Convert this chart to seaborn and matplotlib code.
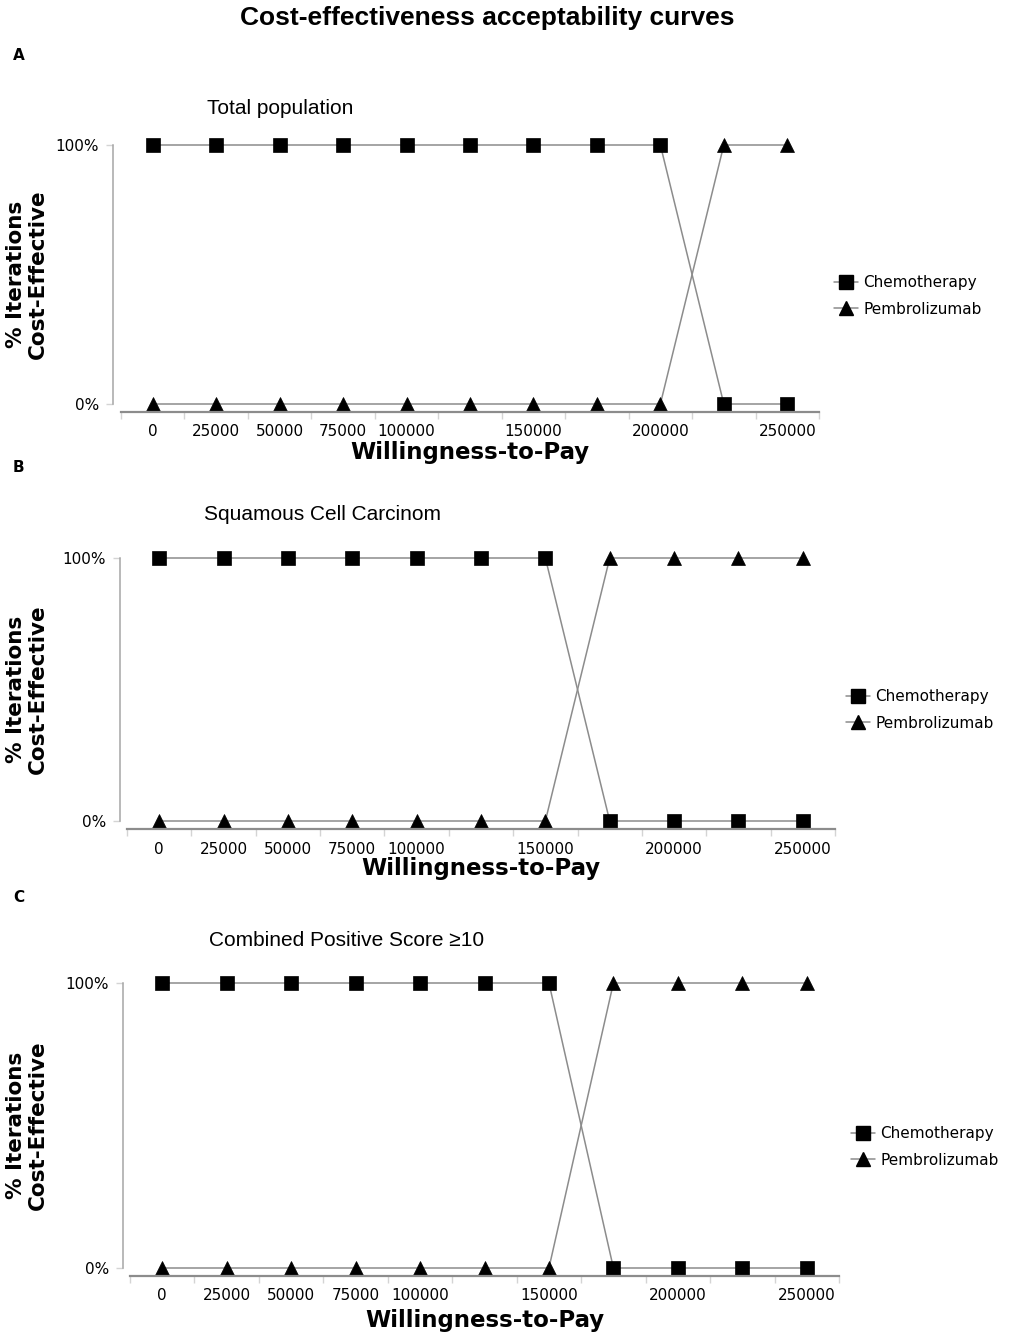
import matplotlib
matplotlib.use("Agg")
import seaborn as sns
from matplotlib import pyplot as plt
from matplotlib import font_manager
from matplotlib.lines import Line2D
from matplotlib.ticker import FixedLocator

# willingness-to-pay thresholds and the labels shown under the axis
wtp = [0, 25000, 50000, 75000, 100000, 125000, 150000, 175000, 200000, 225000, 250000]
wtp_labels = ["0", "25000", "50000", "75000", "100000", "", "150000", "", "200000", "", "250000"]

# share of iterations cost-effective (1 = 100%)
chemo_total = [1, 1, 1, 1, 1, 1, 1, 1, 1, 0, 0]
pembro_total = [0, 0, 0, 0, 0, 0, 0, 0, 0, 1, 1]
chemo_scc = [1, 1, 1, 1, 1, 1, 1, 0, 0, 0, 0]
pembro_scc = [0, 0, 0, 0, 0, 0, 0, 1, 1, 1, 1]
chemo_cps = [1, 1, 1, 1, 1, 1, 1, 0, 0, 0, 0]
pembro_cps = [0, 0, 0, 0, 0, 0, 0, 1, 1, 1, 1]

series_names = ["Chemotherapy", "Pembrolizumab"]
letters = ["A", "B", "C"]
subtitles = ["Total population", "Squamous Cell Carcinom", "Combined Positive Score \u226510"]

W, H = 1009, 1339
LINE = "#8c8c8c"
SPINE_Y = "#a6a6a6"
TICK = "#d4d4d4"

# the original uses a condensed font for titles; use it when present
installed = {f.name for f in font_manager.fontManager.ttflist}
if "Liberation Sans Narrow" in installed:
    NARROW = ["Liberation Sans Narrow", "DejaVu Sans"]
    title_size, sub_size = 20, 18
else:
    NARROW = ["Liberation Sans", "DejaVu Sans"]
    title_size, sub_size = 19, 15

# pixel layout of each panel
layout = [
    dict(x0=121, x1=819, y100=145, y0=404, yax=412, xax=113, sub=(280, 108),
         let=55, leg=(834, 296), xl=452),
    dict(x0=127, x1=835, y100=558, y0=821, yax=829, xax=120, sub=(322, 515),
         let=467, leg=(846, 710), xl=869),
    dict(x0=130, x1=839, y100=983, y0=1268, yax=1276, xax=123, sub=(347, 940),
         let=898, leg=(851, 1147), xl=1320),
]
data = [(chemo_total, pembro_total), (chemo_scc, pembro_scc), (chemo_cps, pembro_cps)]

sns.set_theme(style="white")
plt.rcParams["font.family"] = ["DejaVu Sans"]
plt.rcParams["text.color"] = "black"
plt.rcParams["axes.labelcolor"] = "black"
plt.rcParams["xtick.color"] = "black"
plt.rcParams["ytick.color"] = "black"

fig = plt.figure(figsize=(W / 100, H / 100), dpi=100)

fig.text(487 / W, 1 - 18 / H, "Cost-effectiveness acceptability curves",
         ha="center", va="center", fontsize=title_size, fontweight="bold", family=NARROW)

for i, (lay, (chemo, pembro)) in enumerate(zip(layout, data)):
    unit = lay["y0"] - lay["y100"]
    pad_bot = (lay["yax"] - lay["y0"]) / unit
    pad_top = 0.04
    top_px = lay["y100"] - pad_top * unit
    ax = fig.add_axes([lay["x0"] / W, 1 - lay["yax"] / H,
                       (lay["x1"] - lay["x0"]) / W, (lay["yax"] - top_px) / H])

    for vals, mk in zip((chemo, pembro), ("s", "^")):
        sns.lineplot(x=wtp, y=vals, ax=ax, color=LINE, linewidth=1.1, marker=mk,
                     markersize=9.5, markerfacecolor="black", markeredgecolor="black",
                     markeredgewidth=0.5)

    step = wtp[1] - wtp[0]
    ax.set_xlim(wtp[0] - step / 2, wtp[-1] + step / 2)
    ax.set_ylim(-pad_bot, 1 + pad_top)

    ax.xaxis.set_major_locator(FixedLocator(wtp))
    ax.set_xticklabels(wtp_labels)
    ax.xaxis.set_minor_locator(FixedLocator([w - step / 2 for w in wtp] + [wtp[-1] + step / 2]))
    ax.tick_params(axis="x", which="major", length=0, pad=9, labelsize=11, labelcolor="black")
    ax.tick_params(axis="x", which="minor", bottom=True, length=5, width=1, color=TICK)

    ax.set_yticks([0, 1])
    ax.set_yticklabels(["0%", "100%"])
    ax.tick_params(axis="y", left=True, length=5, width=1, color=TICK, pad=5,
                   labelsize=11, labelcolor="black")

    for side in ("top", "right"):
        ax.spines[side].set_visible(False)
    ax.spines["bottom"].set_color(LINE)
    ax.spines["bottom"].set_linewidth(1.6)
    ax.spines["left"].set_color(SPINE_Y)
    ax.spines["left"].set_linewidth(1.1)
    ax.spines["left"].set_bounds(0, 1)
    ax.spines["left"].set_position(("outward", (lay["x0"] - lay["xax"]) * 0.72))
    ax.grid(False)
    ax.set_xlabel("")
    ax.set_ylabel("")

    xc = (lay["x0"] + lay["x1"]) / 2
    fig.text(xc / W, 1 - lay["xl"] / H, "Willingness-to-Pay", ha="center", va="center",
             fontsize=16.5, fontweight="bold")
    yc = (lay["y0"] + lay["y100"]) / 2
    fig.text(27 / W, 1 - yc / H, "% Iterations\nCost-Effective", ha="center", va="center",
             rotation=90, fontsize=15.5, fontweight="bold", linespacing=1.1)
    fig.text(lay["sub"][0] / W, 1 - lay["sub"][1] / H, subtitles[i], ha="center",
             va="center", fontsize=sub_size, family=NARROW)
    fig.text(13 / W, 1 - lay["let"] / H, letters[i], ha="left", va="center",
             fontsize=11, fontweight="bold")

    handles = [Line2D([], [], color=LINE, linewidth=1.1, marker=mk, markersize=9.5,
                      markerfacecolor="black", markeredgecolor="black")
               for mk in ("s", "^")]
    fig.legend(handles, series_names, loc="center left",
               bbox_to_anchor=(lay["leg"][0] / W, 1 - lay["leg"][1] / H),
               frameon=False, fontsize=11, handlelength=1.6, handletextpad=0.3,
               labelspacing=0.75, borderpad=0, borderaxespad=0)

fig.savefig("out.png", dpi=100)
